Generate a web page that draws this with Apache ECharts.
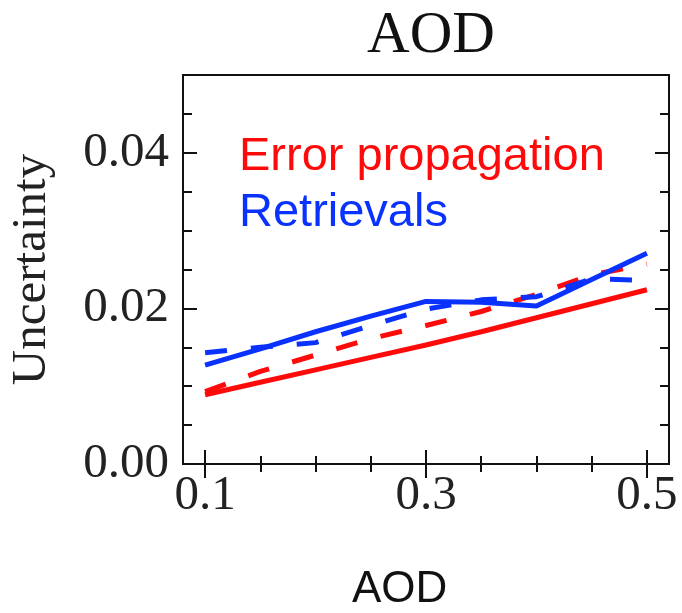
<!DOCTYPE html>
<html>
<head>
<meta charset="utf-8">
<script src="https://cdn.jsdelivr.net/npm/echarts@6/dist/echarts.min.js"></script>
<style>
html,body{margin:0;padding:0;background:#fff;}
#chart{width:682px;height:613px;}
</style>
</head>
<body>
<div id="chart"></div>
<script>
// AOD values (x)
var aod = [0.1, 0.15, 0.2, 0.25, 0.3, 0.35, 0.4, 0.45, 0.5];
// Uncertainty series
var errPropSolid = [0.0089, 0.0105, 0.0121, 0.0137, 0.0153, 0.0170, 0.0188, 0.0206, 0.0224];
var errPropDashed = [0.0093, 0.0119, 0.0140, 0.0161, 0.0178, 0.0196, 0.0218, 0.0243, 0.0257];
var retrSolid = [0.0127, 0.0148, 0.0170, 0.0190, 0.0209, 0.0208, 0.0203, 0.0237, 0.0271];
var retrDashed = [0.0143, 0.0150, 0.0156, 0.0178, 0.0199, 0.0211, 0.0215, 0.0238, 0.0236];
// tick values
var xMajor = [0.1, 0.3, 0.5];
var xMinor = [0.1, 0.15, 0.2, 0.25, 0.3, 0.35, 0.4, 0.45, 0.5];
var yMajor = [0, 0.02, 0.04];
var yMinor = [0, 0.005, 0.01, 0.015, 0.02, 0.025, 0.03, 0.035, 0.04, 0.045];

var RED = '#ff0a0a';
var BLUE = '#0a32ff';
var SERIF = '"Liberation Serif", "Times New Roman", serif';
var SANS = '"Liberation Sans", Arial, sans-serif';

function pairs(ys){ return aod.map(function(x,i){ return [x, ys[i]]; }); }

function xAx(pos, ticks, len, labels){
  return {
    type:'value', position:pos, min:0.08, max:0.52, gridIndex:0,
    axisLine:{show:false}, splitLine:{show:false},
    axisTick:{show:true, inside:true, length:len, customValues:ticks, lineStyle:{color:'#111', width:2}},
    axisLabel: labels ? {show:true, customValues:xMajor, fontFamily:SERIF, fontSize:49, color:'#222', margin:8,
      formatter:function(v){return v.toFixed(1);}} : {show:false}
  };
}
function yAx(pos, ticks, len, labels){
  var a = {
    type:'value', position:pos, min:0, max:0.05, gridIndex:0,
    axisLine:{show:false}, splitLine:{show:false},
    axisTick:{show:true, inside:true, length:len, customValues:ticks, lineStyle:{color:'#111', width:2}},
    axisLabel: labels ? {show:true, customValues:yMajor, fontFamily:SERIF, fontSize:49, color:'#222', margin:14,
      formatter:function(v){return v.toFixed(2);}} : {show:false}
  };
  if(labels){
    a.name = 'Uncertainty';
    a.nameLocation = 'middle';
    a.nameRotate = 90;
    a.nameGap = 126;
    a.nameTextStyle = {fontFamily:SERIF, fontSize:49, color:'#222'};
  }
  return a;
}

var chart = echarts.init(document.getElementById('chart'), null, {renderer:'canvas'});
chart.setOption({
  animation:false,
  backgroundColor:'#fff',
  title:{text:'AOD', left:426, top:2, textAlign:'center',
    textStyle:{fontFamily:SERIF, fontSize:59, fontWeight:'normal', color:'#111'}},
  grid:{left:182, right:13, top:75, bottom:149, show:true, borderColor:'#111', borderWidth:2, backgroundColor:'transparent'},
  xAxis:[xAx('bottom', xMajor, 14, true), xAx('bottom', xMinor, 8, false), xAx('top', xMajor, 14, false), xAx('top', xMinor, 8, false)],
  yAxis:[yAx('left', yMajor, 14, true), yAx('left', yMinor, 9, false), yAx('right', yMajor, 14, false), yAx('right', yMinor, 9, false)],
  series:[
    {name:'Error propagation', type:'line', data:pairs(errPropSolid), showSymbol:false, lineStyle:{color:RED, width:5}, itemStyle:{color:RED}, z:2},
    {name:'Error propagation (dashed)', type:'line', data:pairs(errPropDashed), showSymbol:false, lineStyle:{color:RED, width:5, type:[22,24]}, itemStyle:{color:RED}, z:3},
    {name:'Retrievals (dashed)', type:'line', data:pairs(retrDashed), showSymbol:false, lineStyle:{color:BLUE, width:5, type:[22,24]}, itemStyle:{color:BLUE}, z:4},
    {name:'Retrievals', type:'line', data:pairs(retrSolid), showSymbol:false, lineStyle:{color:BLUE, width:5}, itemStyle:{color:BLUE}, z:5}
  ],
  graphic:[
    {type:'text', left:239, top:134, style:{text:'Error propagation', fill:RED, font:'47px ' + SANS}},
    {type:'text', left:239, top:190, style:{text:'Retrievals', fill:BLUE, font:'47px ' + SANS}},
    {type:'text', left:352, top:568, style:{text:'AOD', fill:'#111', font:'44px ' + SANS}}
  ]
});
</script>
</body>
</html>
